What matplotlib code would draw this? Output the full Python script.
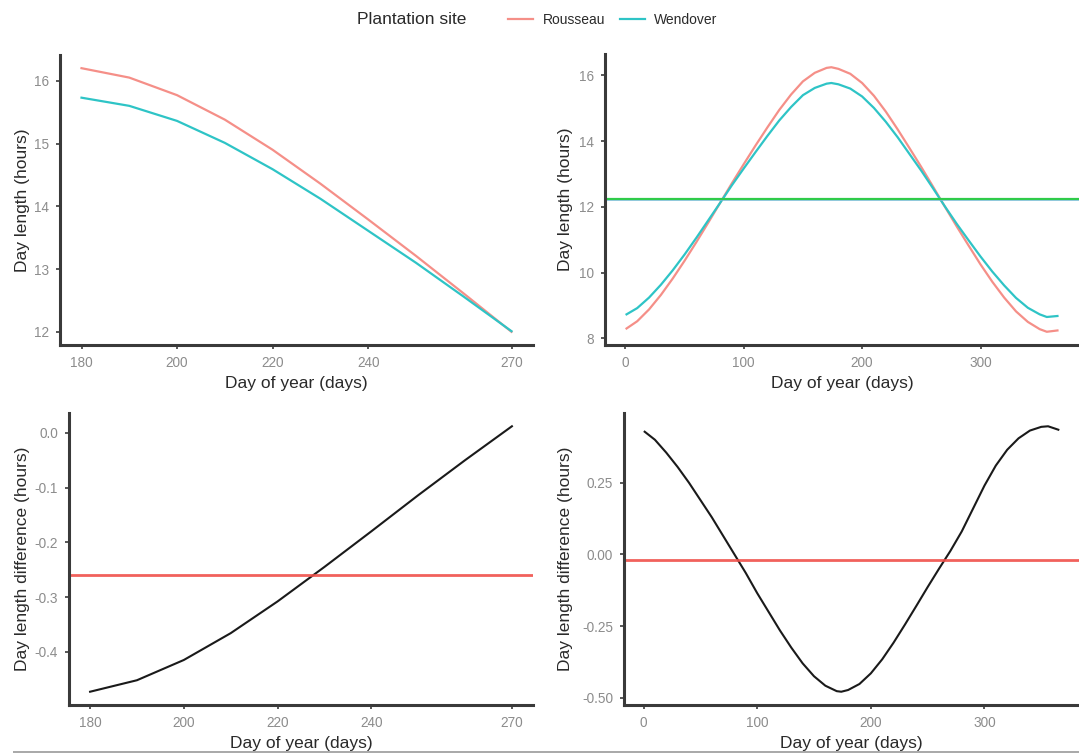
import matplotlib
matplotlib.use("Agg")
import matplotlib.pyplot as plt
import numpy as np
from matplotlib.lines import Line2D
from matplotlib.patches import Rectangle

plt.rcParams['font.family'] = ['Liberation Sans', 'DejaVu Sans']

W_PX, H_PX = 1079, 756
DPI = 100

# Day of year
days = [1, 10, 20, 30, 40, 50, 60, 70, 80, 90, 100, 110, 120, 130, 140, 150, 160, 170,
        174, 180, 190, 200, 210, 220, 230, 240, 250, 260, 270, 280, 290, 300, 310, 320,
        330, 340, 350, 356, 365]

# Day length (hours) per site
rousseau = [8.30, 8.52, 8.88, 9.32, 9.82, 10.36, 10.93, 11.52, 12.12, 12.72, 13.30, 13.87,
            14.42, 14.95, 15.42, 15.82, 16.08, 16.23, 16.25, 16.20, 16.05, 15.77, 15.38,
            14.90, 14.36, 13.79, 13.21, 12.61, 12.00, 11.40, 10.82, 10.25, 9.72, 9.24,
            8.82, 8.50, 8.28, 8.20, 8.24]
wendover = [8.73, 8.92, 9.24, 9.63, 10.07, 10.55, 11.06, 11.59, 12.12, 12.66, 13.17, 13.67,
            14.16, 14.63, 15.04, 15.40, 15.62, 15.75, 15.77, 15.73, 15.60, 15.36, 15.01,
            14.59, 14.12, 13.61, 13.10, 12.56, 12.01, 11.48, 10.98, 10.49, 10.03, 9.61,
            9.23, 8.93, 8.73, 8.65, 8.68]

# Wendover minus Rousseau (hours)
difference = [0.428, 0.40, 0.355, 0.305, 0.25, 0.19, 0.13, 0.065, 0.0, -0.065, -0.135, -0.20,
              -0.265, -0.325, -0.38, -0.425, -0.458, -0.477, -0.479, -0.473, -0.452, -0.415,
              -0.366, -0.308, -0.245, -0.180, -0.114, -0.050, 0.012, 0.08, 0.16, 0.24, 0.31,
              0.365, 0.405, 0.432, 0.445, 0.447, 0.435]

# reference lines (means)
mean_rousseau = 12.25
mean_wendover = 12.23
mean_diff_summer = -0.26
mean_diff_year = -0.02

summer_ticks = [180, 200, 220, 240, 270]
year_ticks = [0, 100, 200, 300]

days = np.array(days)
rousseau = np.array(rousseau)
wendover = np.array(wendover)
difference = np.array(difference)
summer = (days >= 180) & (days <= 270)

C_ROU = '#F58F88'
C_WEN = '#2EC4C6'


def px_axes(fig, left, top, right, bottom):
    return fig.add_axes([left / W_PX, 1 - bottom / H_PX,
                         (right - left) / W_PX, (bottom - top) / H_PX])


def style(ax, ylab, ylab_x):
    for s in ['top', 'right']:
        ax.spines[s].set_visible(False)
    for s in ['left', 'bottom']:
        ax.spines[s].set_linewidth(2.2)
        ax.spines[s].set_color('#3a3a3a')
    ax.tick_params(axis='both', colors='#3a3a3a', labelcolor='#8c8c8c',
                   labelsize=9.8, length=3, width=1.2, pad=5)
    ax.set_xlabel("Day of year (days)", fontsize=12.5, color='#2a2a2a', labelpad=4)
    ax.set_ylabel(ylab, fontsize=12.5, color='#2a2a2a')
    ax.yaxis.set_label_coords(ylab_x, 0.5)
    ax.margins(x=0.05, y=0.05)


fig = plt.figure(figsize=(W_PX / DPI, H_PX / DPI), dpi=DPI)

# top-left: summer day length
ax1 = px_axes(fig, 60, 55, 533, 345)
ax1.plot(days[summer], rousseau[summer], color=C_ROU, lw=1.6)
ax1.plot(days[summer], wendover[summer], color=C_WEN, lw=1.6)
ax1.set_xticks(summer_ticks)
ax1.set_yticks([12, 13, 14, 15, 16])
style(ax1, "Day length (hours)", -0.064)

# top-right: whole year day length
ax2 = px_axes(fig, 605, 54, 1079, 345)
ax2.plot(days, rousseau, color=C_ROU, lw=1.6)
ax2.plot(days, wendover, color=C_WEN, lw=1.6)
ax2.axhline(mean_rousseau, color='#7FB8E8', lw=1.8)
ax2.axhline(mean_wendover, color='#2FCB4A', lw=1.6)
ax2.set_xticks(year_ticks)
ax2.set_yticks([8, 10, 12, 14, 16])
style(ax2, "Day length (hours)", -0.068)

# bottom-left: summer difference
ax3 = px_axes(fig, 69, 413, 533, 705)
ax3.plot(days[summer], difference[summer], color='#1a1a1a', lw=1.5)
ax3.axhline(mean_diff_summer, color='#F0504A', lw=2.0, alpha=0.9)
ax3.set_xticks(summer_ticks)
ax3.set_yticks([-0.4, -0.3, -0.2, -0.1, 0.0])
ax3.set_yticklabels(["-0.4", "-0.3", "-0.2", "-0.1", "0.0"])
style(ax3, "Day length difference (hours)", -0.084)

# bottom-right: whole year difference
ax4 = px_axes(fig, 624, 413, 1079, 705)
ax4.plot(days, difference, color='#1a1a1a', lw=1.5)
ax4.axhline(mean_diff_year, color='#F0504A', lw=2.0, alpha=0.9)
ax4.set_xticks(year_ticks)
ax4.set_yticks([-0.5, -0.25, 0.0, 0.25])
ax4.set_yticklabels(["-0.50", "-0.25", "0.00", "0.25"])
style(ax4, "Day length difference (hours)", -0.112)

# legend along the top
fig.text(357 / W_PX, 1 - 20 / H_PX, "Plantation site", fontsize=12.5, color='#2a2a2a',
         ha='left', va='center')
handles = [Line2D([], [], color=C_ROU, lw=1.6), Line2D([], [], color=C_WEN, lw=1.6)]
fig.legend(handles, ["Rousseau", "Wendover"], ncol=2, frameon=False, fontsize=10,
           loc='center', bbox_to_anchor=(613 / W_PX, 1 - 20 / H_PX),
           handlelength=1.8, columnspacing=1.0, handletextpad=0.7, labelcolor='#2a2a2a')

# screenshot edge: clipped left margin and bottom rule
fig.patches.append(Rectangle((0, 0), 13 / W_PX, 1, transform=fig.transFigure,
                             facecolor='white', edgecolor='none', zorder=10))
fig.lines.append(Line2D([10 / W_PX, 1], [1 - 752 / H_PX] * 2, transform=fig.transFigure,
                        color='#9a9a9a', lw=1.2))

fig.savefig("out.png", dpi=DPI)
